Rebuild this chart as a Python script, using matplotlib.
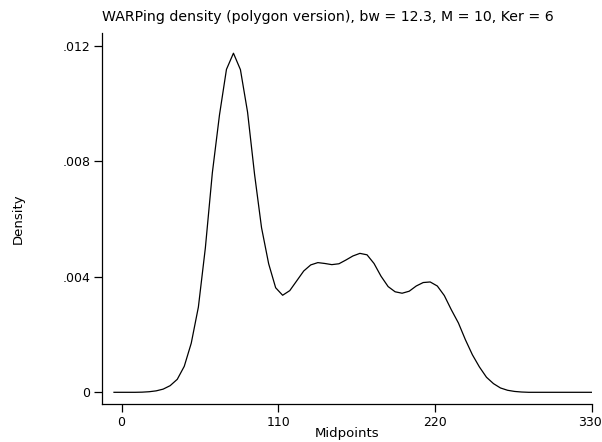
import matplotlib
matplotlib.use("Agg")
import matplotlib.pyplot as plt
from matplotlib.transforms import ScaledTranslation

# Polygon vertices (midpoints) and density values
midpoints = [-5.3, -0.4, 4.6, 9.5, 14.4, 19.4, 24.3, 29.2, 34.1, 39.1,
             44.0, 48.9, 53.9, 58.8, 63.7, 68.7, 73.6, 78.5, 83.4, 88.4,
             93.3, 98.2, 103.2, 108.1, 113.0, 118.0, 122.9, 127.8, 132.7, 137.7,
             142.6, 147.5, 152.5, 157.4, 162.3, 167.2, 172.2, 177.1, 182.0, 187.0,
             191.9, 196.8, 201.8, 206.7, 211.6, 216.5, 221.5, 226.4, 231.3, 236.3,
             241.2, 246.1, 251.0, 256.0, 260.9, 265.8, 270.8, 275.7, 280.6, 285.6,
             290.5, 295.4, 300.3, 305.3, 310.2, 315.1, 320.1, 325.0, 329.9]
density = [0, 0, 0, 0, 0.000005, 0.00002, 0.00005, 0.00011, 0.00023, 0.00045,
           0.00090, 0.00170, 0.00295, 0.00500, 0.00760, 0.00960, 0.01118, 0.01174, 0.01117, 0.00970,
           0.00755, 0.00570, 0.00445, 0.00362, 0.00336, 0.00352, 0.00386, 0.00420, 0.00441, 0.00449,
           0.00446, 0.00442, 0.00445, 0.00458, 0.00472, 0.00481, 0.00476, 0.00446, 0.00402, 0.00366,
           0.00348, 0.00343, 0.00350, 0.00368, 0.00380, 0.00382, 0.00368, 0.00335, 0.00286, 0.00240,
           0.00182, 0.00130, 0.00088, 0.00052, 0.00030, 0.00015, 0.00007, 0.00003, 0.00001, 0,
           0, 0, 0, 0, 0, 0, 0, 0, 0]

x_ticks = [0, 110, 220, 330]
x_tick_labels = ["0", "110", "220", "330"]
y_ticks = [0, 0.004, 0.008, 0.012]
y_tick_labels = ["0", ".004", ".008", ".012"]

title = "WARPing density (polygon version), bw = 12.3, M = 10, Ker = 6"
xlabel = "Midpoints"
ylabel = "Density"

plt.rcParams['font.family'] = ['DejaVu Sans']

W, H = 602, 442
fig = plt.figure(figsize=(W / 100, H / 100), dpi=100)
fig.patch.set_facecolor("white")
ax_left, ax_right, ax_bottom, ax_top = 102, 592, 404, 33.3
ax = fig.add_axes([ax_left / W, 1 - ax_bottom / H, (ax_right - ax_left) / W,
                   (ax_bottom - ax_top) / H])

ax.plot(midpoints, density, color="black", linewidth=0.9)

ax.set_xlim(-13.7, 330)
ax.set_ylim(-0.000405, 0.012429)

for s in ["top", "right"]:
    ax.spines[s].set_visible(False)
for s in ["left", "bottom"]:
    ax.spines[s].set_linewidth(0.9)
    ax.spines[s].set_color("black")

ax.set_xticks(x_ticks)
ax.set_xticklabels(x_tick_labels)
ax.set_yticks(y_ticks)
ax.set_yticklabels(y_tick_labels)
ax.tick_params(axis="both", direction="out", length=5.5, width=0.9, color="black",
               labelsize=9, pad=3)

ax.set_xlabel(xlabel, fontsize=9.5, va="center")
ax.set_ylabel(ylabel, fontsize=9.5, va="center")
ax.xaxis.set_label_coords(0.5, -(434 - ax_bottom) / (ax_bottom - ax_top))
ax.yaxis.set_label_coords((18.3 - ax_left) / (ax_right - ax_left), 0.5)

# keep the last x tick label inside the figure, as in the reference
last_label = ax.get_xticklabels()[-1]
last_label.set_horizontalalignment("right")
last_label.set_transform(last_label.get_transform()
                         + ScaledTranslation(10 / 100, 0, fig.dpi_scale_trans))

fig.text(327.5 / W, 1 - 17 / H, title, ha="center", va="center", fontsize=10.2)

fig.savefig("out.png", dpi=100, facecolor="white")
